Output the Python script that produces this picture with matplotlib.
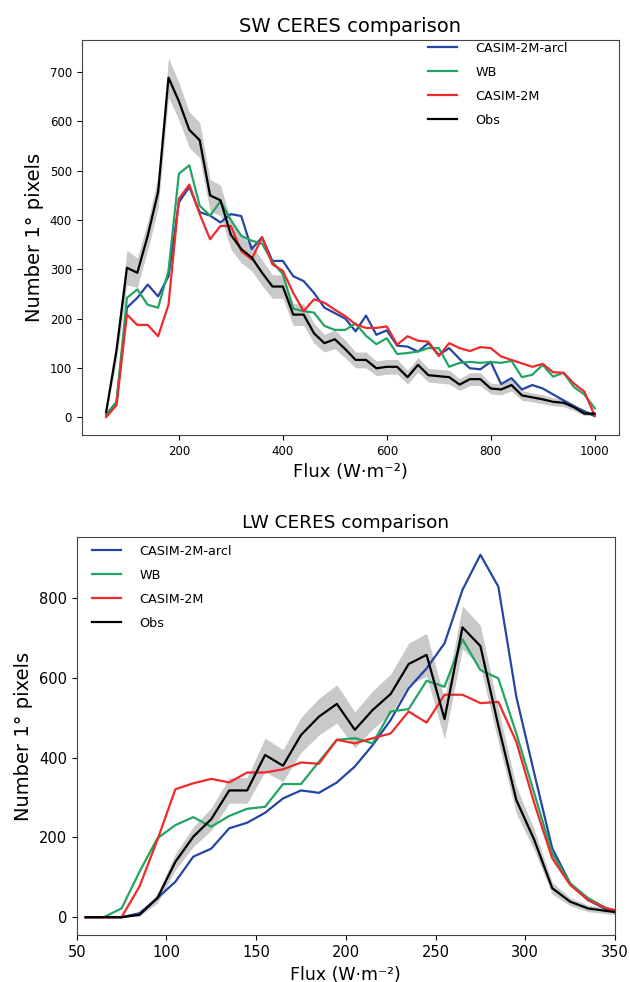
import numpy as np
import matplotlib
matplotlib.use('Agg')
import matplotlib.pyplot as plt

# SW panel data
sw_flux = [60, 80, 100, 120, 140, 160, 180, 200, 220, 240, 260, 280, 300, 320, 340, 360,
           380, 400, 420, 440, 460, 480, 500, 520, 540, 560, 580, 600, 620, 640, 660, 680,
           700, 720, 740, 760, 780, 800, 820, 840, 860, 880, 900, 920, 940, 960, 980, 1000]
sw_arcl = [5, 30, 222, 242, 269, 245, 286, 436, 467, 416, 409, 395, 412, 408, 341, 365,
           317, 317, 286, 276, 252, 222, 211, 200, 174, 206, 167, 176, 145, 143, 133, 150,
           126, 140, 118, 99, 97, 112, 67, 79, 56, 65, 58, 46, 34, 22, 12, 2]
sw_wb = [5, 31, 242, 259, 228, 222, 297, 494, 511, 429, 409, 438, 400, 368, 358, 352,
         315, 290, 220, 215, 212, 185, 177, 177, 190, 165, 148, 160, 128, 130, 133, 140,
         140, 102, 110, 112, 110, 112, 110, 114, 81, 86, 106, 82, 90, 61, 46, 18]
sw_2m = [0, 24, 208, 187, 187, 164, 228, 443, 472, 412, 361, 388, 388, 337, 320, 365,
         310, 297, 252, 215, 239, 232, 218, 205, 188, 181, 181, 184, 147, 164, 155, 153,
         124, 150, 140, 134, 142, 140, 123, 116, 109, 102, 108, 91, 90, 68, 52, 3]
sw_obs = [10, 136, 303, 293, 368, 457, 689, 641, 583, 562, 450, 440, 370, 341, 324, 293,
          265, 265, 208, 208, 170, 150, 158, 138, 116, 116, 99, 102, 102, 81, 106, 85,
          83, 81, 66, 77, 77, 58, 56, 65, 44, 40, 36, 31, 29, 20, 7, 7]
sw_err = [5, 20, 35, 30, 29, 32, 40, 38, 36, 36, 32, 31, 29, 28, 27, 26,
          24, 24, 22, 22, 20, 18, 19, 18, 16, 16, 15, 15, 15, 14, 15, 14,
          14, 14, 12, 13, 13, 11, 11, 12, 10, 9, 9, 8, 8, 7, 4, 4]

# LW panel data
lw_flux = [55, 65, 75, 85, 95, 105, 115, 125, 135, 145, 155, 165, 175, 185, 195, 205,
           215, 225, 235, 245, 255, 265, 275, 285, 295, 305, 315, 325, 335, 345, 355]
lw_arcl = [0, 0, 0, 10, 48, 89, 152, 172, 223, 237, 262, 298, 318, 312, 338, 378,
           432, 495, 574, 624, 687, 821, 909, 829, 553, 361, 173, 85, 43, 20, 10]
lw_wb = [0, 0, 22, 114, 198, 231, 251, 227, 254, 272, 277, 334, 334, 390, 445, 449,
         436, 516, 522, 593, 578, 697, 620, 599, 461, 311, 160, 85, 48, 23, 12]
lw_2m = [0, 0, 0, 77, 194, 321, 336, 347, 338, 363, 363, 371, 388, 385, 445, 436,
         449, 461, 516, 488, 558, 558, 537, 540, 440, 286, 148, 81, 43, 23, 12]
lw_obs = [0, 0, 0, 6, 48, 139, 202, 246, 318, 318, 407, 380, 457, 503, 535, 470,
          520, 560, 635, 658, 497, 727, 680, 480, 294, 194, 73, 39, 22, 16, 10]
lw_err = [0, 0, 0, 3, 12, 20, 25, 28, 32, 32, 42, 40, 44, 46, 48, 45,
          48, 50, 52, 54, 50, 54, 52, 42, 34, 26, 15, 10, 8, 7, 6]

names = ['CASIM-2M-arcl', 'WB', 'CASIM-2M', 'Obs']
colors = ['#2545a5', '#22a463', '#ee2a2a', 'black']

def draw_panel(ax, x, runs, obs, err, title, title_size, xlab_size, tick_size):
    x = np.array(x)
    obs = np.array(obs)
    err = np.array(err)
    ax.fill_between(x, obs - err, obs + err, color='#c9c9c9', lw=0)
    for vals, name, c in zip(runs, names[:3], colors[:3]):
        ax.plot(x, vals, color=c, lw=1.6, label=name)
    ax.plot(x, obs, color=colors[3], lw=1.6, label=names[3])
    ax.set_title(title, fontsize=title_size)
    ax.set_xlabel('Flux (W·m⁻²)', fontsize=xlab_size)
    ax.set_ylabel('Number 1° pixels', fontsize=14)
    ax.tick_params(labelsize=tick_size)
    for s in ax.spines.values():
        s.set_color('#444444')

fig = plt.figure(figsize=(6.3, 9.82), dpi=100)

ax1 = fig.add_axes([0.1297, 0.557, 0.853, 0.4023])
draw_panel(ax1, sw_flux, [sw_arcl, sw_wb, sw_2m], sw_obs, sw_err,
           'SW CERES comparison', 14, 13, 8.5)
ax1.set_xticks([200, 400, 600, 800, 1000])
ax1.set_yticks(range(0, 701, 100))
ax1.legend(loc='upper right', bbox_to_anchor=(0.914, 1.008), borderaxespad=0,
           frameon=False, fontsize=9.2, handlelength=2.3, handletextpad=1.4,
           labelspacing=0.86)

ax2 = fig.add_axes([0.1217, 0.0475, 0.8545, 0.406])
draw_panel(ax2, lw_flux, [lw_arcl, lw_wb, lw_2m], lw_obs, lw_err,
           'LW CERES comparison', 13.3, 12.5, 10.5)
ax2.set_xlim(50, 350)
ax2.set_xticks(range(50, 351, 50))
ax2.set_yticks(range(0, 801, 200))
ax2.legend(loc='upper left', bbox_to_anchor=(0.019, 0.993), borderaxespad=0,
           frameon=False, fontsize=9.2, handlelength=2.3, handletextpad=1.4,
           labelspacing=0.86)

plt.savefig('out.png', dpi=100)
